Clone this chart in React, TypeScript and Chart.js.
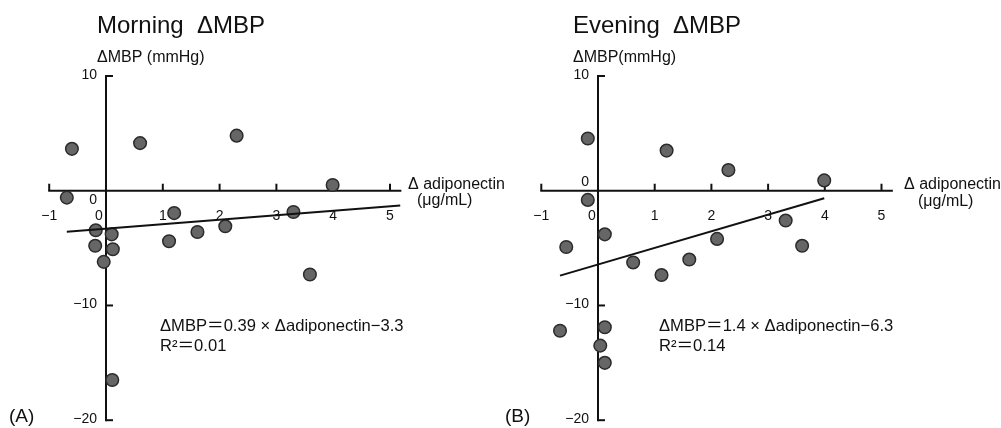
import React, { useEffect, useRef } from "react";
import { Chart, registerables } from "chart.js";
Chart.register(...registerables);

// ---- data ----
const xTicks = [-1, 0, 1, 2, 3, 4, 5];
const yTicks = [10, 0, -10, -20];
const xAxisRange = [-1, 5.2];
const yAxisRange = [-20, 10];

const morningX = [-0.6, 0.6, 2.3, 3.99, -0.69, 1.2, 3.3, -0.18, 0.1, 1.61, 2.1, 1.11, -0.19, 0.12, -0.04, 3.59, 0.11];
const morningY = [3.65, 4.15, 4.8, 0.5, -0.6, -1.95, -1.85, -3.45, -3.8, -3.6, -3.1, -4.4, -4.8, -5.1, -6.2, -7.3, -16.5];
const morningLineX = [-0.69, 5.18];
const morningLineY = [-3.57, -1.28];

const eveningX = [-0.18, 1.21, 2.3, 3.99, -0.18, 3.31, 0.12, -0.56, 2.1, 3.6, 0.62, 1.61, 1.12, -0.67, 0.12, 0.04, 0.12];
const eveningY = [4.55, 3.5, 1.8, 0.9, -0.8, -2.6, -3.8, -4.9, -4.2, -4.8, -6.25, -6.0, -7.35, -12.2, -11.9, -13.5, -15.0];
const eveningLineX = [-0.67, 3.99];
const eveningLineY = [-7.4, -0.65];

const FONT = '"Liberation Sans", "Noto Sans CJK JP", sans-serif';

type TextItem = { t: string; x: number; y: number; size: number };
type Panel = {
  left: number;
  width: number;
  xs: number[];
  ys: number[];
  lx: number[];
  ly: number[];
  pad: { left: number; right: number; top: number; bottom: number };
  zeroYLabelDy: number;
  zeroXLabelDx: number;
  texts: TextItem[];
};

const panels: Panel[] = [
  {
    left: 0,
    width: 520,
    xs: morningX,
    ys: morningY,
    lx: morningLineX,
    ly: morningLineY,
    pad: { left: 37.84, right: 107.28, top: 76, bottom: 7 },
    zeroYLabelDy: 9,
    zeroXLabelDx: -7,
    texts: [
      { t: "Morning  ΔMBP", x: 97, y: 33, size: 24 },
      { t: "ΔMBP (mmHg)", x: 97, y: 62, size: 16 },
      { t: "Δ adiponectin", x: 408, y: 189, size: 16 },
      { t: "(μg/mL)", x: 417, y: 205, size: 16 },
      { t: "ΔMBP＝0.39 × Δadiponectin−3.3", x: 160, y: 331, size: 16.6 },
      { t: "R²＝0.01", x: 160, y: 351, size: 16.6 },
      { t: "(A)", x: 9, y: 422, size: 19 },
    ],
  },
  {
    left: 500,
    width: 501,
    xs: eveningX,
    ys: eveningY,
    lx: eveningLineX,
    ly: eveningLineY,
    pad: { left: 29.96, right: 96.82, top: 76, bottom: 7 },
    zeroYLabelDy: -9,
    zeroXLabelDx: -6,
    texts: [
      { t: "Evening  ΔMBP", x: 73, y: 33, size: 24 },
      { t: "ΔMBP(mmHg)", x: 73, y: 62, size: 16 },
      { t: "Δ adiponectin", x: 404, y: 189, size: 16 },
      { t: "(μg/mL)", x: 418, y: 206, size: 16 },
      { t: "ΔMBP＝1.4 × Δadiponectin−6.3", x: 159, y: 331, size: 16.6 },
      { t: "R²＝0.14", x: 159, y: 351, size: 16.6 },
      { t: "(B)", x: 5, y: 422, size: 19 },
    ],
  },
];

const fmt = (v: number) => (v < 0 ? "−" + Math.abs(v) : String(v));

function makePlugin(p: Panel) {
  return {
    id: "axesAndText",
    beforeDatasetsDraw(chart: any) {
      const ctx = chart.ctx as CanvasRenderingContext2D;
      const sx = chart.scales.x;
      const sy = chart.scales.y;
      const X = (v: number) => sx.getPixelForValue(v);
      const Y = (v: number) => sy.getPixelForValue(v);
      ctx.save();
      ctx.strokeStyle = "#111";
      ctx.lineWidth = 2;
      ctx.lineCap = "butt";
      // y axis
      ctx.beginPath();
      ctx.moveTo(X(0), Y(yAxisRange[1]) - 1);
      ctx.lineTo(X(0), Y(yAxisRange[0]) + 1);
      ctx.stroke();
      for (const t of yTicks) {
        if (t === 0) continue;
        ctx.beginPath();
        ctx.moveTo(X(0), Y(t));
        ctx.lineTo(X(0) + 7, Y(t));
        ctx.stroke();
      }
      // x axis
      ctx.beginPath();
      ctx.moveTo(X(xAxisRange[0]) - 1, Y(0));
      ctx.lineTo(X(xAxisRange[1]), Y(0));
      ctx.stroke();
      for (const t of xTicks) {
        if (t === 0) continue;
        ctx.beginPath();
        ctx.moveTo(X(t), Y(0));
        ctx.lineTo(X(t), Y(0) - 7);
        ctx.stroke();
      }
      // tick labels
      ctx.fillStyle = "#111";
      ctx.font = `14px ${FONT}`;
      ctx.textBaseline = "middle";
      ctx.textAlign = "right";
      for (const t of yTicks) {
        if (t === 0) ctx.fillText("0", X(0) - 9, Y(0) + p.zeroYLabelDy);
        else ctx.fillText(fmt(t), X(0) - 9, Y(t) - 1);
      }
      ctx.textAlign = "center";
      for (const t of xTicks) {
        const dx = t === 0 ? p.zeroXLabelDx : 0;
        ctx.fillText(fmt(t), X(t) + dx, Y(0) + 25);
      }
      ctx.restore();
    },
    afterDraw(chart: any) {
      const ctx = chart.ctx as CanvasRenderingContext2D;
      ctx.save();
      ctx.fillStyle = "#111";
      ctx.textBaseline = "alphabetic";
      ctx.textAlign = "left";
      for (const it of p.texts) {
        ctx.font = `${it.size}px ${FONT}`;
        ctx.fillText(it.t, it.x, it.y);
      }
      ctx.restore();
    },
  };
}

function PanelChart({ p }: { p: Panel }) {
  const ref = useRef<HTMLCanvasElement>(null);
  useEffect(() => {
    if (!ref.current) return;
    const chart = new Chart(ref.current, {
      type: "scatter",
      data: {
        datasets: [
          {
            data: p.lx.map((x, i) => ({ x, y: p.ly[i] })),
            showLine: true,
            borderColor: "#111",
            borderWidth: 2,
            pointRadius: 0,
            clip: false as any,
          },
          {
            data: p.xs.map((x, i) => ({ x, y: p.ys[i] })),
            pointRadius: 6.3,
            pointBackgroundColor: "#666666",
            pointBorderColor: "#2b2b2b",
            pointBorderWidth: 1.5,
            clip: false as any,
          },
        ],
      },
      options: {
        responsive: false,
        maintainAspectRatio: false,
        animation: false,
        events: [],
        layout: { padding: p.pad },
        plugins: { legend: { display: false }, tooltip: { enabled: false } },
        scales: {
          x: { type: "linear", min: -1.2, max: 5.4, display: false },
          y: { type: "linear", min: -20, max: 10, display: false },
        },
      },
      plugins: [makePlugin(p)],
    });
    return () => chart.destroy();
  }, [p]);
  return (
    <canvas
      ref={ref}
      width={p.width}
      height={428}
      style={{ position: "absolute", left: p.left, top: 0, width: p.width, height: 428 }}
    />
  );
}

export default function App() {
  return (
    <div style={{ position: "fixed", left: 0, top: 0, width: 1001, height: 428, background: "#fff", overflow: "hidden" }}>
      {panels.map((p, i) => (
        <PanelChart key={i} p={p} />
      ))}
    </div>
  );
}
